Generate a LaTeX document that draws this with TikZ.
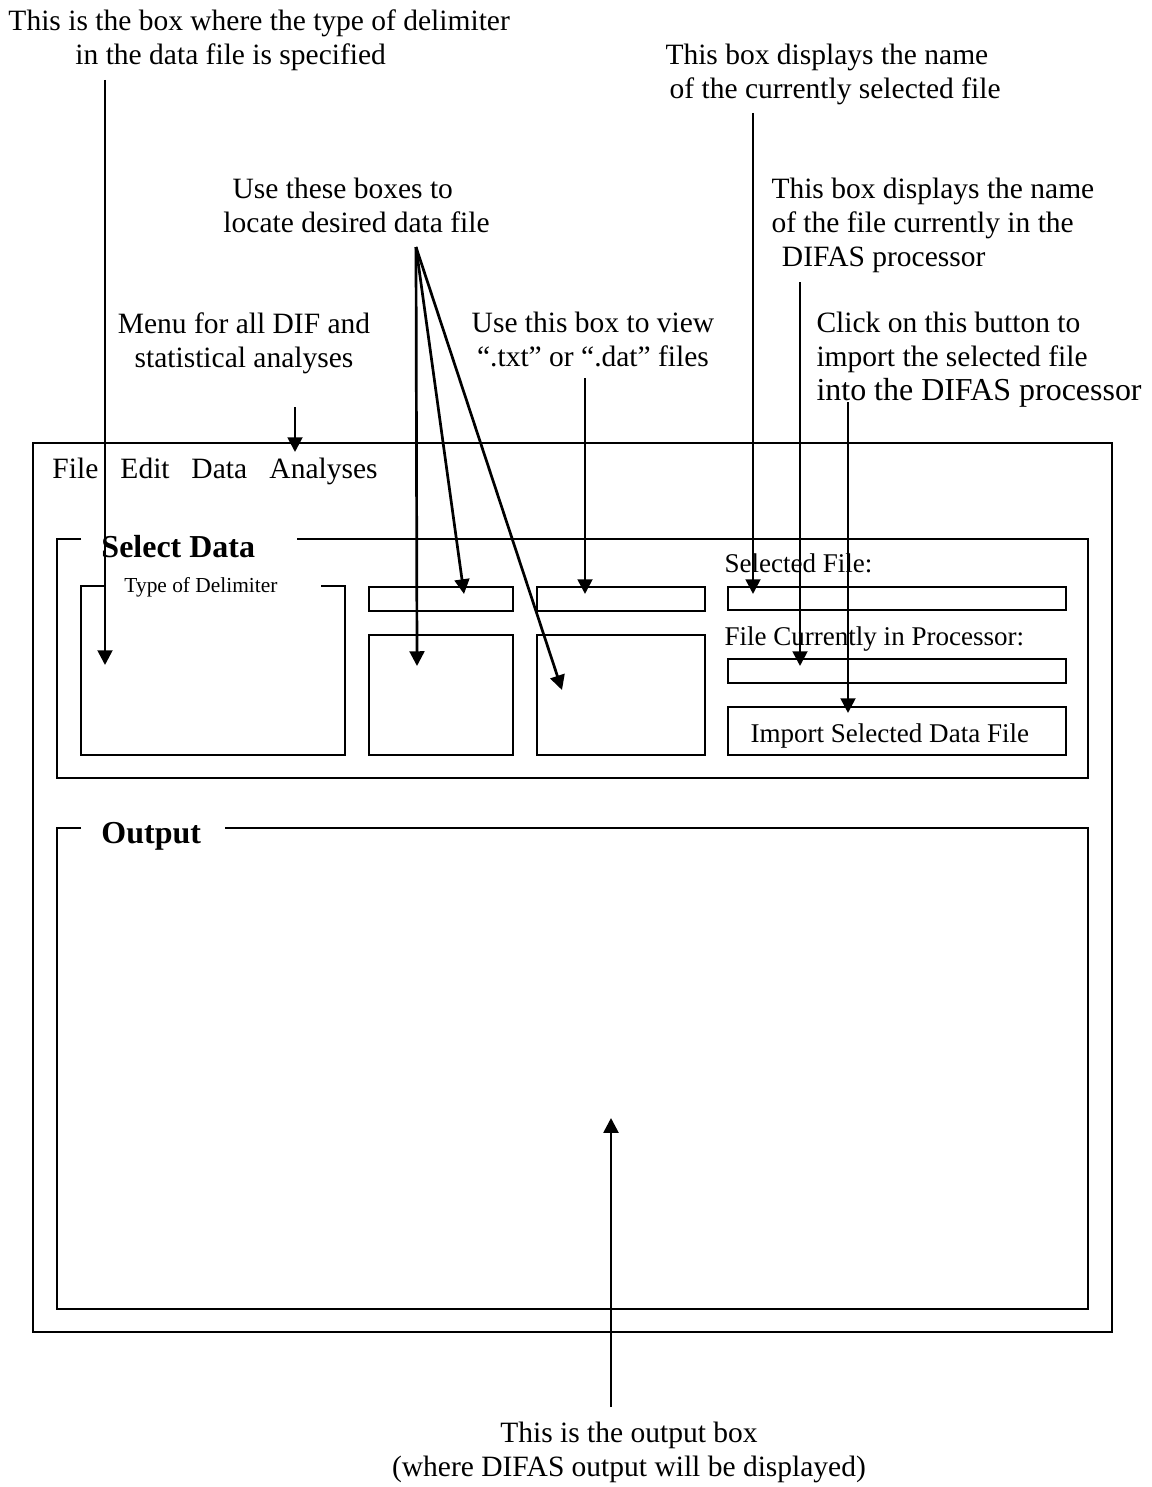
\documentclass[tikz,border=0pt]{standalone}
\usepackage{fontspec}
\setmainfont{Liberation Serif}
\usetikzlibrary{arrows.meta}

\begin{document}
\begin{tikzpicture}[x=0.0143cm,y=-0.0143cm,
	winbox/.style={line width=0.9pt},
	arr/.style={line width=1.1pt,-{Triangle[length=6pt,width=6pt]}},
	note/.style={inner sep=0pt,font=\fontsize{12}{13.8}\selectfont},
	menuitem/.style={inner sep=0pt,anchor=base west,font=\fontsize{12}{13.8}\selectfont},
	fieldlabel/.style={inner sep=0pt,anchor=base west,font=\fontsize{11}{13}\selectfont},
	grouptitle/.style={inner sep=0pt,anchor=base west,font=\fontsize{13}{15}\selectfont\bfseries}]

	\useasboundingbox (0,0) rectangle (1151,1487);

	% notes
	\node[note,anchor=north west,align=left] (delimnote) at (8,9) {This is the box where the type of delimiter\\\hspace*{0.958cm}in the data file is specified};
	\node[note,anchor=north west,align=left] (selnote) at (665,44) {This box displays the name\\\hspace*{0.06cm}of the currently selected file};
	\node[note,anchor=north west,align=left] (boxesnote) at (223,178) {\hspace*{0.13cm}Use these boxes to\\locate desired data file};
	\node[note,anchor=north west,align=left] (procnote) at (771,178) {This box displays the name\\of the file currently in the\\\hspace*{0.15cm}DIFAS processor};
	\node[note,anchor=north,align=center] (menunote) at (244,312) {Menu for all DIF and\\statistical analyses};
	\node[note,anchor=north,align=center] (viewnote) at (593,312) {Use this box to view\\``.txt'' or ``.dat'' files};
	\node[note,anchor=north west,align=left] (importnote) at (816,312) {Click on this button to\\import the selected file\\{\fontsize{13}{15}\selectfont into the DIFAS processor}};
	\node[note,anchor=north,align=center] (outnote) at (629,1422) {This is the output box\\(where DIFAS output will be displayed)};

	% window
	\draw[winbox] (33,443) rectangle (1112,1332);
	\node[menuitem] (mfile) at (52,478) {File};
	\node[menuitem] (medit) at (120,478) {Edit};
	\node[menuitem] (mdata) at (191,478) {Data};
	\node[menuitem] (manal) at (269,478) {Analyses};

	% select data group
	\draw[winbox] (81,539) -- (57,539) -- (57,778) -- (1088,778) -- (1088,539) -- (297,539);
	\node[grouptitle] (seltitle) at (101,557) {Select Data};
	\draw[winbox] (104,586) -- (81,586) -- (81,755) -- (345,755) -- (345,586) -- (321,586);
	\node[fieldlabel,font=\fontsize{8.7}{10}\selectfont] (delimtitle) at (124,592) {Type of Delimiter};
	\draw[winbox] (369,587) rectangle (513,611);
	\draw[winbox] (537,587) rectangle (705,611);
	\draw[winbox] (369,635) rectangle (513,755);
	\draw[winbox] (537,635) rectangle (705,755);
	\node[fieldlabel] (sellabel) at (724,572) {Selected File:};
	\draw[winbox] (728,587) rectangle (1066,610);
	\node[fieldlabel] (proclabel) at (724,645) {File Currently in Processor:};
	\draw[winbox] (728,659) rectangle (1066,683);
	\draw[winbox] (728,707) rectangle (1066,755);
	\node[fieldlabel] (importbtn) at (750,742) {Import Selected Data File};

	% output group
	\draw[winbox] (81,828) -- (57,828) -- (57,1309) -- (1088,1309) -- (1088,828) -- (225,828);
	\node[grouptitle] (outtitle) at (101,843) {Output};

	% arrow ends
	\coordinate (delimfrom) at (105,80);
	\coordinate (delimtip) at (105,665);
	\coordinate (menufrom) at (295,407);
	\coordinate (menutip) at (295,452);
	\coordinate (fan) at (416,247);
	\coordinate (dirtip) at (464,594);
	\coordinate (listtip) at (417,666);
	\coordinate (viewtip) at (562,690);
	\coordinate (typefrom) at (585,378);
	\coordinate (typetip) at (585,594);
	\coordinate (selfrom) at (753,113);
	\coordinate (seltip) at (753,594);
	\coordinate (procfrom) at (800,282);
	\coordinate (proctip) at (800,666);
	\coordinate (importfrom) at (848,402);
	\coordinate (importtip) at (848,713);
	\coordinate (outfrom) at (611,1407);
	\coordinate (outtip) at (611,1118);

	\draw[arr] (delimfrom) -- (delimtip);
	\draw[arr] (menufrom) -- (menutip);
	\draw[arr] (fan) -- (dirtip);
	\draw[arr] (fan) -- (listtip);
	\draw[arr] (fan) -- (viewtip);
	\draw[arr] (typefrom) -- (typetip);
	\draw[arr] (selfrom) -- (seltip);
	\draw[arr] (procfrom) -- (proctip);
	\draw[arr] (importfrom) -- (importtip);
	\draw[arr] (outfrom) -- (outtip);

\end{tikzpicture}
\end{document}
